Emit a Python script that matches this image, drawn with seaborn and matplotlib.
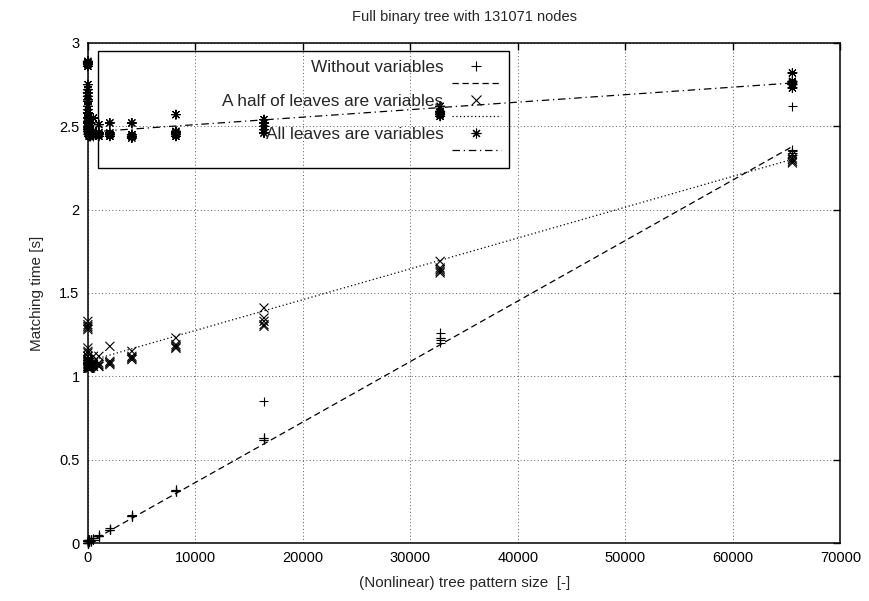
import numpy as np
import pandas as pd
import matplotlib
matplotlib.use('Agg')
import matplotlib.pyplot as plt
import seaborn as sns
from matplotlib.lines import Line2D
from matplotlib.patches import Rectangle
from matplotlib.ticker import FuncFormatter

sns.set_style('white')
plt.rcParams['font.family'] = ['Liberation Sans', 'DejaVu Sans']

# pattern sizes (nodes) and 5 runs per size, matching time in seconds
sizes = [1, 3, 7, 15, 31, 63, 127, 255, 511, 1023, 2047, 4095, 8191, 16383, 32767, 65535]

time_plain = [
    [0.00, 0.01, 0.00, 0.01, 0.02], [0.00, 0.01, 0.01, 0.00, 0.01], [0.01, 0.00, 0.01, 0.02, 0.01],
    [0.01, 0.01, 0.00, 0.01, 0.02], [0.01, 0.02, 0.01, 0.01, 0.00], [0.01, 0.01, 0.02, 0.01, 0.01],
    [0.01, 0.02, 0.01, 0.02, 0.01], [0.02, 0.01, 0.02, 0.01, 0.02], [0.02, 0.03, 0.02, 0.02, 0.03],
    [0.04, 0.04, 0.05, 0.04, 0.04], [0.08, 0.08, 0.09, 0.08, 0.08], [0.16, 0.16, 0.17, 0.16, 0.16],
    [0.31, 0.32, 0.31, 0.32, 0.31], [0.62, 0.63, 0.62, 0.85, 0.63], [1.23, 1.22, 1.26, 1.20, 1.23],
    [2.35, 2.36, 2.33, 2.62, 2.34],
]
time_half = [
    [1.29, 1.31, 1.28, 1.33, 1.30], [1.15, 1.12, 1.17, 1.10, 1.14], [1.08, 1.10, 1.06, 1.12, 1.09],
    [1.06, 1.08, 1.05, 1.10, 1.07], [1.05, 1.07, 1.06, 1.09, 1.05], [1.06, 1.05, 1.08, 1.06, 1.07],
    [1.05, 1.07, 1.06, 1.05, 1.08], [1.06, 1.05, 1.07, 1.06, 1.09], [1.07, 1.06, 1.12, 1.08, 1.06],
    [1.06, 1.08, 1.07, 1.12, 1.06], [1.08, 1.07, 1.09, 1.18, 1.08], [1.11, 1.10, 1.12, 1.15, 1.11],
    [1.17, 1.18, 1.19, 1.23, 1.17], [1.31, 1.33, 1.35, 1.41, 1.30], [1.63, 1.64, 1.62, 1.69, 1.65],
    [2.28, 2.30, 2.29, 2.33, 2.31],
]
time_all = [
    [2.88, 2.87, 2.89, 2.86, 2.88], [2.72, 2.68, 2.75, 2.65, 2.70], [2.62, 2.58, 2.66, 2.55, 2.60],
    [2.55, 2.52, 2.58, 2.50, 2.53], [2.50, 2.48, 2.52, 2.47, 2.49], [2.47, 2.46, 2.49, 2.45, 2.48],
    [2.46, 2.45, 2.48, 2.44, 2.47], [2.45, 2.47, 2.44, 2.46, 2.52], [2.45, 2.46, 2.55, 2.44, 2.47],
    [2.45, 2.46, 2.44, 2.51, 2.46], [2.44, 2.45, 2.46, 2.52, 2.45], [2.43, 2.44, 2.45, 2.52, 2.44],
    [2.44, 2.45, 2.47, 2.57, 2.46], [2.48, 2.50, 2.52, 2.54, 2.46], [2.57, 2.59, 2.58, 2.62, 2.56],
    [2.73, 2.75, 2.77, 2.82, 2.76],
]

series_names = ['Without variables', 'A half of leaves are variables', 'All leaves are variables']
# linear fit results f(x) = a + b*x (b per 1000 nodes)
fit_intercept = [0.0, 1.09, 2.465]
fit_slope_k = [0.0363, 0.0185, 0.0045]

markers = {series_names[0]: '+', series_names[1]: 'x', series_names[2]: (8, 2, 0)}
dashes = {series_names[0]: (5, 3), series_names[1]: (1, 2), series_names[2]: (6, 3, 1, 3)}

rows = []
for name, times in zip(series_names, [time_plain, time_half, time_all]):
    for s, runs in zip(sizes, times):
        for t in runs:
            rows.append({'series': name, 'size': s, 'time': t})
points = pd.DataFrame(rows)

fit_rows = []
for name, a, b in zip(series_names, fit_intercept, fit_slope_k):
    for s in sizes:
        fit_rows.append({'series': name, 'size': s, 'fit': a + b * s / 1000.0})
fits = pd.DataFrame(fit_rows)

fig = plt.figure(figsize=(8.7, 6.01), dpi=100)
ax = fig.add_axes([0.101, 0.0965, 0.865, 0.832])

sns.lineplot(data=fits, x='size', y='fit', style='series', dashes=dashes, color='black',
             linewidth=0.9, legend=False, ax=ax)
sns.scatterplot(data=points, x='size', y='time', style='series', markers=markers, color='black',
                s=42, linewidth=0.8, legend=False, ax=ax, clip_on=False, zorder=5)

ax.set_xlim(0, 70000)
ax.set_ylim(0, 3)
ax.set_xticks(np.arange(0, 70001, 10000))
ax.set_yticks(np.arange(0, 3.01, 0.5))
ax.yaxis.set_major_formatter(FuncFormatter(lambda v, p: '%g' % v))
ax.grid(True, color='0.35', linestyle=(0, (1, 2.5)), linewidth=0.7)
ax.tick_params(direction='in', top=True, right=True, length=5, width=1, labelsize=10.5, pad=6, colors='black')
for sp in ax.spines.values():
    sp.set_color('black')
    sp.set_linewidth(1.1)

ax.set_title('Full binary tree with 131071 nodes', fontsize=10.5, pad=16)
ax.set_xlabel('(Nonlinear) tree pattern size  [-]', fontsize=11, labelpad=8)
ax.set_ylabel('Matching time [s]', fontsize=11, labelpad=11)

# gnuplot style key: label, point on one row, fit line on the next row
handles, labels = [], []
for name in series_names:
    handles.append(Line2D([], [], color='black', marker=markers[name], linestyle='None',
                          markersize=7, markeredgewidth=0.8))
    labels.append(name)
    handles.append(Line2D([], [], color='black', linewidth=0.9, dashes=dashes[name]))
    labels.append(' ')
leg = ax.legend(handles, labels, loc='upper right', bbox_to_anchor=(0.5598, 0.984), frameon=False,
                markerfirst=False, fontsize=12.4, labelspacing=0.11, handlelength=2.8,
                handletextpad=0.52, borderpad=0.5, borderaxespad=0)
ax.add_patch(Rectangle((0.0133, 0.75), 0.5465, 0.234, transform=ax.transAxes, fill=False,
                       edgecolor='black', linewidth=1.0, zorder=4))

fig.savefig('out.png', dpi=100)
